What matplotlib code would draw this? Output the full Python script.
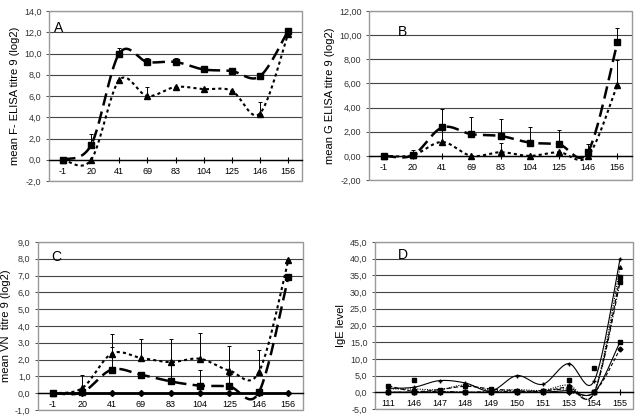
import numpy as np
import matplotlib.pyplot as plt
from matplotlib.patches import Rectangle
from matplotlib.ticker import FuncFormatter

plt.rcParams['font.family'] = ['Liberation Sans', 'DejaVu Sans']

# ---- data ----
days = ['-1', '20', '41', '69', '83', '104', '125', '146', '156']

a_sq = [0, 1.4, 10.0, 9.2, 9.2, 8.5, 8.35, 7.85, 12.1]
a_sq_err = [0, 1.0, 0.5, 0.4, 0.4, 0.3, 0, 0, 0]
a_tri = [0, 0, 7.5, 6.0, 6.85, 6.65, 6.5, 4.35, 11.8]
a_tri_err = [0, 0, 0, 0.85, 0, 0, 0, 1.1, 0]

b_sq = [0, 0.05, 2.35, 1.8, 1.65, 1.1, 0.95, 0.35, 9.4]
b_sq_err = [0, 0.45, 1.5, 1.4, 1.4, 1.25, 1.2, 0.65, 1.2]
b_tri = [0, 0.05, 1.15, 0, 0.3, 0, 0.3, 0, 5.9]
b_tri_err = [0, 0, 1.1, 0, 0.8, 0, 0, 0.6, 2.0]

c_tri = [0, 0.3, 2.35, 2.1, 1.85, 2.05, 1.35, 1.25, 7.9]
c_tri_err = [0, 0.8, 1.2, 1.15, 1.35, 1.55, 1.45, 1.35, 0]
c_sq = [0, 0.05, 1.4, 1.1, 0.7, 0.45, 0.4, 0.05, 6.9]
c_sq_err = [0, 0, 1.35, 0, 0.95, 0.95, 0.7, 0, 0]
c_ctrl = [0, 0, 0, 0, 0, 0, 0, 0, 0]

animals = ['111', '146', '147', '148', '149', '150', '151', '153', '154', '155']
d_1 = [1.2, 1.5, 3.5, 2.8, 0.4, 5.0, 2.4, 8.6, 3.5, 40.0]
d_2 = [2.0, 0.3, 0.8, 1.8, 1.0, 0.5, 0.3, 1.5, 0, 34.5]
d_3 = [1.0, 1.0, 0.8, 2.2, 0.6, 0.8, 0.6, 2.2, 0, 37.5]
d_4 = [0, 0, 0.3, 0, 0.2, 0.2, 0.5, 1.0, 0, 33.0]
d_5 = [0, 0, 0, 0, 0, 0, 0, 0.5, 0, 15.2]
d_6 = [0, 0, 0, 0, 0, 0, 0, 0, 0, 13.0]
d_extra_x = [1, 7, 8]
d_extra = [3.6, 3.6, 7.3]


def smooth(y, n=25):
    # excel-like smoothed line (bezier through the points)
    pts = np.column_stack([np.arange(len(y)), np.asarray(y, float)])
    P = np.vstack([pts[0], pts, pts[-1]])
    out = []
    t = np.linspace(0, 1, n)[:, None]
    for i in range(len(pts) - 1):
        p0, p1, p2, p3 = P[i], P[i + 1], P[i + 2], P[i + 3]
        c1 = p1 + (p2 - p0) / 6
        c2 = p2 - (p3 - p1) / 6
        out.append((1 - t)**3 * p1 + 3 * (1 - t)**2 * t * c1 + 3 * (1 - t) * t**2 * c2 + t**3 * p2)
    s = np.vstack(out)
    return s[:, 0], s[:, 1]


def series(ax, y, err, marker, ls, lw):
    sx, sy = smooth(y)
    ax.plot(sx, sy, color='black', ls=ls, lw=lw, zorder=3)
    x = np.arange(len(y))
    ax.errorbar(x, y, yerr=[np.zeros(len(y)), err], fmt='none', ecolor='black',
                elinewidth=0.7, capsize=1.5, capthick=0.7, zorder=2)
    ax.plot(x, y, ls='none', marker=marker, ms=4.5, color='black', zorder=4)


def setup(ax, labels, ylo, yhi, step, fmt, ylabel, letter, lx, ly):
    ax.set_xlim(-0.5, len(labels) - 0.5)
    ax.set_ylim(ylo, yhi)
    ax.set_yticks(np.arange(ylo, yhi + step / 2, step))
    ax.yaxis.set_major_formatter(FuncFormatter(lambda v, p: (fmt % v).replace('.', ',')))
    ax.set_xticks(range(len(labels)))
    ax.set_xticklabels(labels)
    for s in ['top', 'right', 'left']:
        ax.spines[s].set_visible(False)
    ax.spines['bottom'].set_position(('data', 0))
    ax.spines['bottom'].set_linewidth(1.0)
    ax.tick_params(axis='x', direction='inout', length=4, width=0.8, labelsize=6.5, pad=3)
    ax.tick_params(axis='y', direction='out', length=2, width=0.6, labelsize=6.5, colors='#333333')
    ax.grid(axis='y', color='#444444', lw=0.8)
    ax.set_axisbelow(True)
    ax.add_patch(Rectangle((0, 0), 1, 1, transform=ax.transAxes, fill=False,
                           ec='#999999', lw=1.0, clip_on=False, zorder=1))
    ax.set_ylabel(ylabel, fontsize=8, labelpad=3)
    ax.text(lx, ly, letter, transform=ax.transAxes, fontsize=10, va='center')


fig = plt.figure(figsize=(6.4, 4.18), dpi=100)

axA = fig.add_axes([49 / 640, 1 - 181 / 418, 253 / 640, 170 / 418])
setup(axA, days, -2, 14, 2, '%.1f', 'mean F- ELISA titre 9 (log2)', 'A', 0.02, 0.9)
series(axA, a_sq, a_sq_err, 's', (0, (5, 2.5)), 1.8)
series(axA, a_tri, a_tri_err, '^', (0, (1.5, 1.5)), 1.5)

axB = fig.add_axes([369 / 640, 1 - 180 / 418, 263 / 640, 169 / 418])
setup(axB, days, -2, 12, 2, '%.2f', 'mean G ELISA titre 9 (log2)', 'B', 0.11, 0.875)
series(axB, b_sq, b_sq_err, 's', (0, (5, 2.5)), 1.8)
series(axB, b_tri, b_tri_err, '^', (0, (1.5, 1.5)), 1.5)

axC = fig.add_axes([38 / 640, 1 - 410 / 418, 265 / 640, 168 / 418])
setup(axC, days, -1, 9, 1, '%.1f', 'mean VN  titre 9 (log2)', 'C', 0.05, 0.91)
series(axC, c_tri, c_tri_err, '^', (0, (1.5, 1.5)), 1.5)
series(axC, c_sq, c_sq_err, 's', (0, (5, 2.5)), 1.8)
axC.plot(range(len(c_ctrl)), c_ctrl, color='black', lw=2, marker='D', ms=3, zorder=3)

axD = fig.add_axes([375 / 640, 1 - 409 / 418, 258 / 640, 167 / 418])
setup(axD, animals, -5, 45, 5, '%.1f', 'IgE level', 'D', 0.09, 0.92)
d_styles = [('-', '+'), ((0, (4, 2)), 's'), ((0, (1, 1.2)), '^'),
            ((0, (4, 1.5, 1, 1.5)), 's'), ('-', 's'), ((0, (3, 2)), 'D')]
for y, (ls, mk) in zip([d_1, d_2, d_3, d_4, d_5, d_6], d_styles):
    sx, sy = smooth(y)
    axD.plot(sx, sy, color='black', ls=ls, lw=0.8, zorder=3)
    axD.plot(range(len(y)), y, ls='none', marker=mk, ms=2.5, color='black', zorder=4)
axD.plot(d_extra_x, d_extra, ls='none', marker='s', ms=2.5, color='black', zorder=4)

fig.savefig('out.png', dpi=100)
